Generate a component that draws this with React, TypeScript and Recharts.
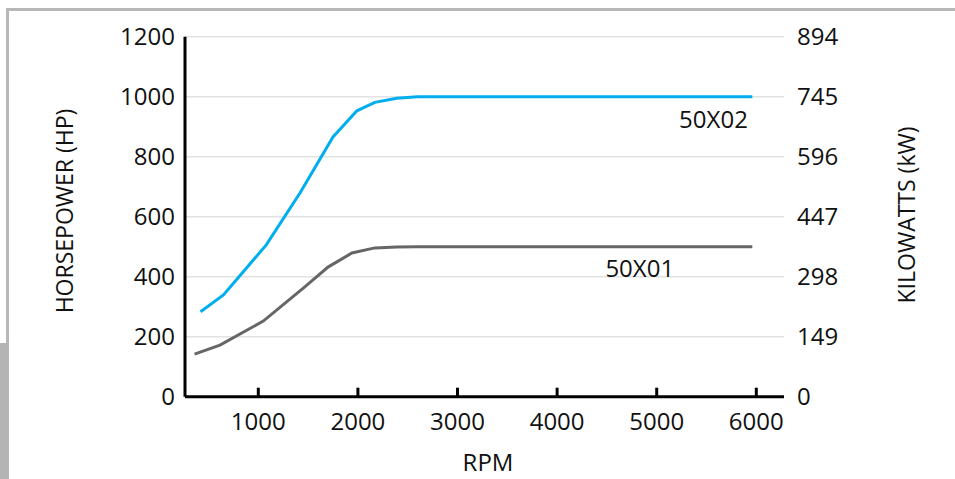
import React from "react";
import { LineChart, Line, XAxis, YAxis, CartesianGrid, Label } from "recharts";

// axis ticks
const rpmTicks = [1000, 2000, 3000, 4000, 5000, 6000];
const hpTicks = [0, 200, 400, 600, 800, 1000, 1200];
const kwTicks = [0, 149, 298, 447, 596, 745, 894];

// 50X02 (blue)
const rpm50x02 = [
  420, 650, 1080, 1420, 1750, 1990, 2170, 2390, 2600, 2830, 3060, 3280,
  3500, 3720, 3940, 4160, 4380, 4610, 4830, 5060, 5280, 5510, 5740, 5960,
];
const hp50x02 = [
  283, 339, 506, 680, 866, 953, 981, 995, 1000, 1000, 1000, 1000,
  1000, 1000, 1000, 1000, 1000, 1000, 1000, 1000, 1000, 1000, 1000, 1000,
];

// 50X01 (grey)
const rpm50x01 = [
  360, 615, 1050, 1470, 1700, 1940, 2170, 2390, 2600, 2830, 3060, 3280,
  3500, 3720, 3940, 4160, 4380, 4610, 4830, 5060, 5280, 5510, 5740, 5960,
];
const hp50x01 = [
  142, 172, 252, 367, 432, 479, 496, 499, 500, 500, 500, 500,
  500, 500, 500, 500, 500, 500, 500, 500, 500, 500, 500, 500,
];

const FONT = "'Open Sans', 'Noto Sans', sans-serif";
const INK = "#111";

const data50x02 = rpm50x02.map((rpm, i) => ({ rpm, hp: hp50x02[i] }));
const data50x01 = rpm50x01.map((rpm, i) => ({ rpm, hp: hp50x01[i] }));

function RpmTick(props: any) {
  const { x, y, payload } = props;
  return (
    <g>
      <line x1={x} x2={x} y1={y} y2={y - 9} stroke="#000" strokeWidth={3} />
      <text
        x={x}
        y={y + 33}
        textAnchor="middle"
        fontSize={24}
        fontFamily={FONT}
        fill={INK}
      >
        {payload.value}
      </text>
    </g>
  );
}

// series name written just under the flat part of each line
function seriesTag(rpmAt: number, rpms: number[], text: string, dx: number, dy: number) {
  const idx = rpms.indexOf(rpmAt);
  return (props: any) => {
    if (props.index !== idx) return null;
    return (
      <text
        x={props.x + dx}
        y={props.y + dy}
        textAnchor="middle"
        fontSize={24}
        fontFamily={FONT}
        fill={INK}
      >
        {text}
      </text>
    );
  };
}

const verticalTitle = (text: string, cx: number, cy: number) => () => (
  <text
    x={cx}
    y={cy}
    transform={`rotate(-90, ${cx}, ${cy})`}
    textAnchor="middle"
    dominantBaseline="central"
    fontSize={23}
    fontFamily={FONT}
    fill={INK}
  >
    {text}
  </text>
);

const rpmTitle = () => (
  <text x={488} y={471} textAnchor="middle" fontSize={24} fontFamily={FONT} fill={INK}>
    RPM
  </text>
);

export default function App() {
  return (
    <div
      style={{
        position: "absolute",
        left: 0,
        top: 0,
        width: 955,
        height: 479,
        background: "#fff",
        overflow: "hidden",
      }}
    >
      {/* page frame bits visible in the screenshot */}
      <div style={{ position: "absolute", left: 6, top: 8, width: 949, height: 3, background: "#b8b8b8" }} />
      <div style={{ position: "absolute", left: 6, top: 8, width: 3, height: 336, background: "#b8b8b8" }} />
      <div style={{ position: "absolute", left: 0, top: 343, width: 9, height: 136, background: "#b4b4b4" }} />

      <div style={{ position: "absolute", left: 0, top: 0 }}>
        <LineChart
          width={955}
          height={479}
          margin={{ top: 36.7, right: 71, bottom: 42.3, left: 85 }}
          style={{ fontFamily: FONT }}
        >
          <CartesianGrid
            xAxisId="rpm"
            yAxisId="hp"
            vertical={false}
            stroke="#e2e2e2"
            strokeWidth={1.5}
          />
          <XAxis
            xAxisId="rpm"
            dataKey="rpm"
            type="number"
            domain={[264, 6278]}
            ticks={rpmTicks}
            interval={0}
            height={40}
            axisLine={{ stroke: "#000", strokeWidth: 3 }}
            tickLine={false}
            tickSize={0}
            tickMargin={0}
            tick={<RpmTick />}
          >
            <Label content={rpmTitle} />
          </XAxis>
          <YAxis
            yAxisId="hp"
            orientation="left"
            width={100}
            domain={[0, 1200]}
            ticks={hpTicks}
            interval={0}
            axisLine={{ stroke: "#000", strokeWidth: 3 }}
            tickLine={false}
            tickMargin={4}
            tick={{ fontSize: 24, fill: INK, fontFamily: FONT }}
          >
            <Label content={verticalTitle("HORSEPOWER (HP)", 64, 211)} />
          </YAxis>
          <YAxis
            yAxisId="kw"
            orientation="right"
            width={100}
            domain={[0, 894]}
            allowDataOverflow
            ticks={kwTicks}
            interval={0}
            axisLine={false}
            tickLine={false}
            tickMargin={7}
            tick={{ fontSize: 24, fill: INK, fontFamily: FONT }}
          >
            <Label content={verticalTitle("KILOWATTS (kW)", 906, 215)} />
          </YAxis>

          {/* invisible carrier so the kW axis gets drawn */}
          <Line
            data={data50x01}
            dataKey="hp"
            xAxisId="rpm"
            yAxisId="kw"
            stroke="transparent"
            strokeWidth={0}
            dot={false}
            activeDot={false}
            legendType="none"
            isAnimationActive={false}
          />

          <Line
            data={data50x01}
            dataKey="hp"
            name="50X01"
            xAxisId="rpm"
            yAxisId="hp"
            type="linear"
            stroke="#666666"
            strokeWidth={3}
            dot={false}
            activeDot={false}
            isAnimationActive={false}
            label={seriesTag(4830, rpm50x01, "50X01", 0, 30)}
          />
          <Line
            data={data50x02}
            dataKey="hp"
            name="50X02"
            xAxisId="rpm"
            yAxisId="hp"
            type="linear"
            stroke="#00aeef"
            strokeWidth={3}
            dot={false}
            activeDot={false}
            isAnimationActive={false}
            label={seriesTag(5510, rpm50x02, "50X02", 6, 31)}
          />
        </LineChart>
      </div>
    </div>
  );
}
